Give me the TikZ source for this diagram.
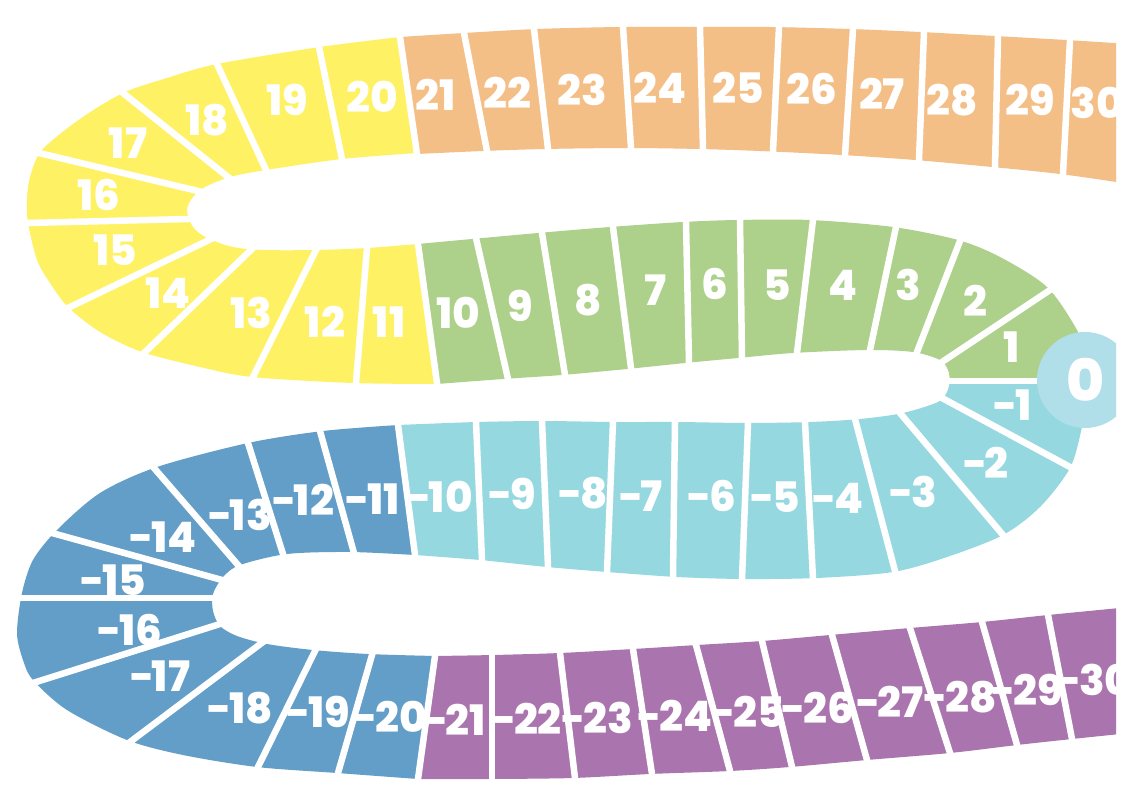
\documentclass[tikz,border=0pt]{standalone}
\usepackage{fontspec}
\setmainfont{Poppins}
\newfontfamily\lblfont{Poppins}[UprightFont={* ExtraBold}]
\newcommand\mn{-\kern-2.5pt}
\definecolor{cyel}{RGB}{254,242,100}
\definecolor{cora}{RGB}{244,190,135}
\definecolor{cgre}{RGB}{173,208,138}
\definecolor{ccya}{RGB}{150,216,224}
\definecolor{ccir}{RGB}{176,223,233}
\definecolor{cblu}{RGB}{98,158,199}
\definecolor{cpur}{RGB}{170,117,174}
\tikzset{
  divider/.style={white,line width=6.5pt,line cap=butt,shorten <=-4pt,shorten >=-4pt},
  lab/.style={text=white,inner sep=0pt,font=\lblfont\fontsize{42}{42}\selectfont}
}
\begin{document}
\begin{tikzpicture}[x=1pt,y=-1pt]
\useasboundingbox (0,0) rectangle (1144,808);
\fill[white] (0,0) rectangle (1144,808);
\clip (0,0) rectangle (1116,808);
% orange top strip
\fill[cora] plot[smooth] coordinates {(400,37)(464,33)(537,29)(620,27)(697,27)(770,27)(850,29)(920,32)(995,36)(1066,40)(1130,44)}
  -- (1130,184)
  -- plot[smooth] coordinates {(1130,184)(1060,174)(992,167)(915,160)(842,155)(760,151)(699,149)(627,148)(545,149)(483,151)(417,154)} -- cycle;
% yellow loop
\fill[cyel] plot[smooth] coordinates {(400,37)(320,47)(217,64)(167,78)(123,93)(80,119)(42,150)(30,177)(27,200)(28,223)(37,260)(50,283)(68,307)(100,332)(142,352)(200,367)(252,377)(353,383)(437,384)}
  -- plot[smooth] coordinates {(418,244)(367,248)(317,250)(263,250)(233,247)(207,238)(193,227)(187,210)(193,197)(205,187)(230,177)(266,170)(342,159)(417,153)} -- cycle;
% green strip
\fill[cgre] plot[smooth] coordinates {(418,244)(472,239)(538,233)(610,227)(683,222)(737,220)(810,220)(893,227)(958,240)(1000,257)(1047,287)(1077,330)(1088,360)(1090,381)}
  -- plot[smooth] coordinates {(950,381)(948,370)(940,360)(913,352)(867,350)(793,353)(738,358)(685,363)(627,369)(562,375)(503,379)(437,384)} -- cycle;
% cyan strip
\fill[ccya] plot[smooth] coordinates {(1090,381)(1082,427)(1070,468)(1040,507)(1003,535)(947,557)(893,572)(817,578)(743,579)(677,577)(607,572)(547,567)(480,560)(415,555)}
  -- plot[smooth] coordinates {(398,425)(477,422)(543,421)(613,422)(677,422)(747,423)(810,422)(860,419)(903,413)(938,402)(947,392)(950,381)} -- cycle;
% blue loop
\fill[cblu] plot[smooth] coordinates {(398,425)(323,431)(248,443)(157,467)(100,493)(57,530)(33,560)(22,593)(17,633)(23,660)(33,680)(67,710)(127,740)(183,755)(257,767)(337,773)(418,779)}
  -- plot[smooth] coordinates {(435,656)(368,654)(313,650)(267,644)(237,636)(220,626)(213,611)(213,594)(223,577)(240,565)(287,554)(350,552)(415,555)} -- cycle;
% purple strip
\fill[cpur] plot[smooth] coordinates {(435,656)(493,655)(560,653)(633,649)(697,645)(762,641)(830,635)(910,628)(982,622)(1048,615)(1130,607)}
  -- (1130,733)
  -- plot[smooth] coordinates {(1130,733)(1072,739)(1017,745)(950,753)(867,760)(790,767)(730,771)(650,774)(573,778)(490,779)(418,779)} -- cycle;
% dividers
\foreach \xa/\ya/\xb/\yb in {
  400/37/417/154, 464/33/487/151, 534/29/548/149, 623/27/631/148, 700/27/703/149,
  779/27/773/151, 853/29/845/155, 924/32/919/160, 998/36/995/167, 1070/40/1063/174,
  319/47/342/159, 217/64/266/170, 123/93/228/177, 39/153/198/191, 27/223/188/219,
  70/307/211/239, 144/353/252/249, 253/377/316/250, 356/383/367/248, 418/244/437/383,
  476/238/508/379, 542/233/565/375, 613/227/631/368, 686/222/689/363, 740/220/742/358,
  813/220/797/353, 896/227/870/350, 960/241/917/352, 1050/290/942/362, 946/381/1045/381,
  942/398/1070/467, 900/413/1003/535, 855/419/895/571, 805/422/813/579, 748/423/742/579,
  675/422/673/577, 613/422/607/572, 542/421/548/567, 476/422/482/560, 398/425/415/555,
  320/431/354/553, 248/443/283/554, 154/468/238/565, 52/533/222/580, 20/598/215/598,
  33/683/220/624, 130/742/263/642, 258/767/315/651, 338/773/372/655, 435/656/418/779,
  492/655/492/779, 560/653/575/778, 633/649/652/774, 696/645/730/771, 762/641/792/767,
  832/635/867/760, 910/628/950/753, 982/622/1017/745, 1048/615/1072/739}
  \draw[divider] (\xa,\ya) -- (\xb,\yb);
% zero circle
\fill[ccir] (1085,380) circle[radius=48];
\node[lab,font=\lblfont\fontsize{58}{58}\selectfont] (n0) at (1086,380) {0};
% positive labels
\foreach \t/\x/\y in {
  19/287/100, 20/372/97, 21/436/95, 22/507/93, 23/582/90, 24/660/88, 25/738/88,
  26/812/89, 27/882/94, 28/952/100, 29/1030/100, 30/1097/103,
  18/207/120, 17/128/143, 16/99/195, 15/115/250, 14/168/293, 13/251/313, 12/325/322, 11/389/322,
  10/458/313, 9/520/306, 8/588/300, 7/655/290, 6/715/284, 5/777/285, 4/843/285, 3/908/285,
  2/975/301, 1/1012/347}
  \node[lab] (p\t) at (\x,\y) {\t};
% negative labels
\foreach \t/\x/\y in {
  1/1013/405, 2/986/463, 3/913/492, 4/838/498, 5/775/497, 6/712/496, 7/641/496,
  8/583/493, 9/512/494, 10/440/497, 11/373/499,
  12/303/500, 13/240/515, 14/163/537, 15/113/580, 16/130/630, 17/160/676,
  18/240/708, 19/318/712, 20/390/717,
  21/455/720, 22/527/719, 23/597/718, 24/675/716, 25/748/712, 26/818/708,
  27/890/702, 28/960/697, 29/1027/690, 30/1095/680}
  \node[lab] (m\t) at (\x,\y) {\mn\t};
\end{tikzpicture}
\end{document}
